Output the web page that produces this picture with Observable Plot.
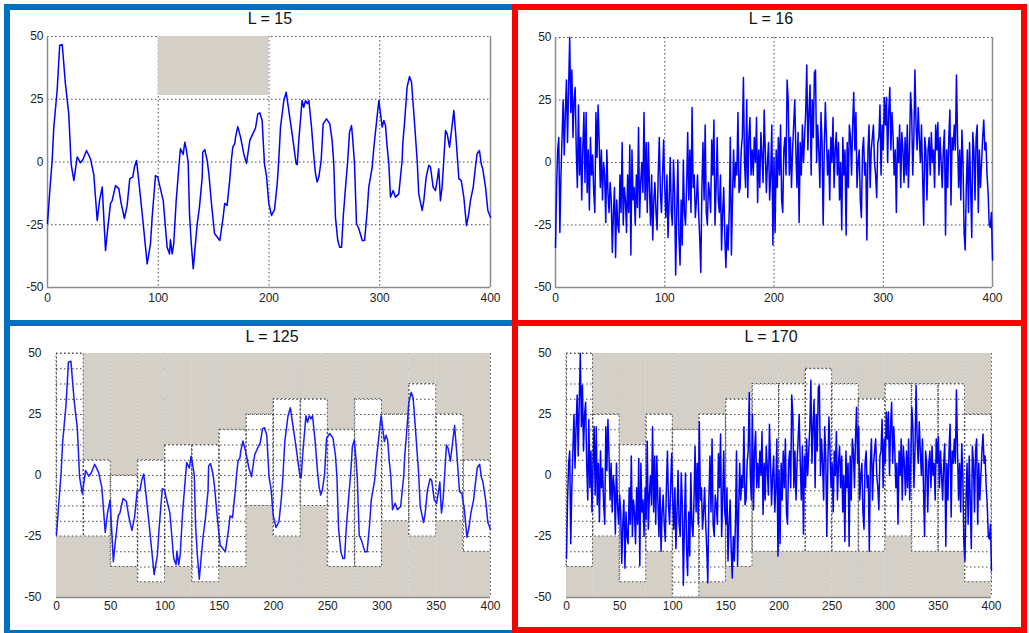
<!DOCTYPE html>
<html><head><meta charset="utf-8">
<script src="https://cdn.jsdelivr.net/npm/d3@7"></script>
<script src="https://cdn.jsdelivr.net/npm/@observablehq/plot@0.6"></script>
<style>
body{margin:0;width:1029px;height:633px;position:relative;overflow:hidden;background:#fff;font-family:"Liberation Sans",Arial,sans-serif;}
.box{position:absolute;box-sizing:border-box;}
.title{position:absolute;font-size:16px;color:#111;text-align:center;line-height:18px;}
.plot{position:absolute;}
</style></head><body>
<script>
// ---------- data ----------
const titles = ["L = 15", "L = 16", "L = 125", "L = 170"];
const xTicksTop = [0, 100, 200, 300, 400];
const xTicksBottom = [0, 50, 100, 150, 200, 250, 300, 350, 400];
const yTicks = [-50, -25, 0, 25, 50];

// smooth series (x, y)
const smoothX = [0,2,4.2,5.7,8.7,11,13.3,16.2,19.2,21.3,23.8,26.8,29.8,32,35.2,38.8,41.8,44.9,47,49.4,52.4,53.9,56.9,58.4,61.4,64.4,66.5,69.5,71.9,74.3,77,78.5,80.4,82.4,85.5,90,93,94.5,97.5,99.6,100.9,104.5,106.5,108,110.2,111,112.6,114,116.2,118.6,120,122.5,124,125.2,127,128.2,129.8,131.6,133,135.2,137.2,139.7,140.2,142,144.2,145.7,147.8,150.8,155.6,158.6,160,162.2,164.5,166,167.3,169.1,169.8,171.8,174.3,177.2,179.7,182.7,185.4,187.8,189.9,191.7,193.8,195.9,197.7,199.8,202.3,205,207.4,208.8,210.4,213.4,215.5,217.9,220.9,224.5,225.5,226.9,229.9,231.4,233,234.5,236,238.4,240.5,242,243.5,245,247.1,248.9,251.9,254.9,257,258.5,260,262.1,263.9,265.5,267,269.1,271.1,272.7,274.5,275.7,277.2,279,281.1,284.2,286.3,288.7,290.1,293.2,294.7,297.7,299.2,300.7,302.2,303.7,305.2,306.7,308.2,309.7,312.1,314.2,317.2,320.2,320.8,322.3,324.7,326.9,328.7,330.8,333.8,335.2,338.3,339.8,341.9,344.3,345.8,348.2,350.3,351.8,353.3,354.8,356.3,357.7,359.4,360.9,363,364.8,366.9,369,370.5,371.4,373.6,375.9,378.3,380.4,381.9,384.4,386.4,387.9,390,391.6,393,395.5,397.6,400];
const smoothY = [-24.5,-12,0.6,13.9,28.5,46.4,46.8,31,19.2,-0.7,-7.4,2,-0.3,1,4.6,1.3,-5,-23.3,-15.3,-10,-35.3,-28.5,-16.5,-15.4,-9.4,-10.6,-16.5,-22.5,-17.3,-6.6,-6,-2,0.6,-7.4,-20.6,-40.6,-32.5,-22,-5.4,-6,-8.7,-15.4,-26,-34,-36.6,-31,-36.6,-32.5,-15.4,-2,5.3,3,7.9,5.3,0,-20.6,-32.5,-42.5,-35.3,-24.6,-18,-6,3.9,4.9,0.6,-4.7,-15.4,-28.5,-31.3,-22,-16.5,-17.3,-7.4,0.6,5.9,7.3,9.9,14.1,9.9,3.3,-0.5,8.6,11.2,13.5,19.2,19.6,16.5,-0.7,-5.4,-16.5,-21.3,-19,-8.7,0.6,13.9,24.5,27.8,20.5,11.2,-0.7,-1,8.6,24.5,21.8,24.5,23.2,24.5,13.9,2,-4.7,-8,-6,0.6,15.2,17.2,15.2,8.6,-0.7,-22,-31.3,-34,-34,-22,-10,0.6,11.9,14.5,8.6,-0.7,-24.6,-26.6,-31.3,-31.3,-19.3,-10,-2,5.9,18.5,24.5,19.2,13.9,16.5,14.5,5.9,-0.7,-14,-11.4,-14,-12.7,0.6,7.3,15.2,29.8,34.1,31.8,19.2,0.6,-12.7,-19.3,-15.4,-6,-1.3,-2,-10,-11.4,-7.4,-2.7,-15.4,-10,0,12.5,11.2,5.9,12.5,20.5,8.6,-0.7,-6.6,-7.4,-14,-25.3,-20.6,-15.4,-10,-2,3.3,4.6,-0.7,-2.7,-10,-19.3,-22];

// noisy series, one value per x = 0..400
const noisyY = [
-34,-10,5,10,-28,-5,10,25,3,20,
33,8,30,50,20,37,10,25,30,5,
-10,23,-5,10,-15,5,20,-8,20,-12,
5,-19,10,-5,3,-12,-20,20,2,23,
8,-10,5,-15,0,-5,-24,5,-12,-20,
-8,-15,-36,-20,-10,-38,-15,-25,-28,-5,
-20,8,-25,-10,-15,-28,-5,-20,7,-37,
5,-15,-10,-25,-5,-18,14,-22,-8,0,
-12,20,-15,8,-20,8,-10,-25,-5,-31,
-15,-8,-20,-27,-5,10,-12,-20,-5,9,
-10,-22,-5,-30,-15,2,-20,-25,1,-12,
-45,-20,1,-30,-41,-15,-33,1,-20,-25,
-10,12,-15,5,-20,22,-10,-5,-22,-15,
-5,-20,-30,-44,-10,8,-15,15,-20,-25,
-8,-12,-20,9,-5,17,-25,-10,10,-15,
-20,-5,-35,-20,-10,-30,-42,-25,-35,-20,
10,-37,-15,5,-10,0,-5,20,-12,-10,
5,10,34,0,-10,25,-14,10,18,-5,
5,-5,10,0,18,-16,5,-10,12,3,
-8,21,5,-12,0,8,-15,-5,15,-33,
2,-28,5,-10,10,-5,15,-15,-20,5,
10,-5,33,25,-5,10,-10,5,15,25,
5,-10,12,-24,8,-5,15,0,10,20,
39,5,20,31,-5,25,10,36,37,0,
15,5,-10,20,8,-25,5,24,10,-5,
5,-15,10,0,18,-10,5,12,-5,8,
-15,0,-27,10,-5,5,-29,8,-10,15,
10,-5,15,28,5,20,-10,0,5,-15,
-22,5,10,-5,0,-31,5,15,-10,5,
10,15,0,-5,-14,8,10,23,-5,15,
5,26,15,26,0,20,30,5,20,10,
-5,5,-20,10,0,15,-10,12,5,-8,
10,-5,15,-10,5,28,20,-5,10,37,
15,5,22,10,0,15,-5,-25,10,5,
-15,5,10,-5,12,0,5,-10,15,5,
16,-5,10,0,-10,5,13,-29,5,-10,
10,21,-17,10,5,15,5,35,10,-10,
5,-15,13,0,-28,-35,-10,5,-20,8,
-10,-30,12,5,-15,10,15,-20,5,-10,
0,10,17,5,8,-5,-12,-25,-26,-20,
-39];

// shaded band in "L = 15"
const shade15X1 = [100], shade15X2 = [200], shade15Y1 = [26.5], shade15Y2 = [50];

// block envelopes (blocks of 25)
const blockStart = [0,25,50,75,100,125,150,175,200,225,250,275,300,325,350,375];
const top125 = [50,6.25,0,6.25,12.5,12.5,18.75,25,31.25,31.25,18.75,31.25,25,37.5,25,6.25];
const bot125 = [-25,-25,-37.5,-43.75,-37.5,-43.75,-37.5,-12.5,-25,-12.5,-37.5,-37.5,-18.75,-25,-18.75,-31.25];
const top170 = [50,25,12.5,25,18.75,25,31.25,37.5,37.5,43.75,37.5,31.25,37.5,37.5,37.5,25];
const bot170 = [-37.5,-25,-43.75,-31.25,-50,-43.75,-37.5,-31.25,-31.25,-31.25,-31.25,-31.25,-25,-31.25,-31.25,-43.75];

// ---------- build ----------
const smooth = smoothX.map((x, i) => ({x, y: smoothY[i]}));
const noisy = noisyY.map((y, i) => ({x: i, y}));
const blocks = (tops, bots) => blockStart.map((s, i) => ({x1: s, x2: s + 25, top: tops[i], bot: bots[i]}));

const GRAY = "#D4D0C8";
const GRID = "#4a4a4a";
const DASH = "1.5,2.5";

function addBox(left, top, w, h, color) {
  const d = document.createElement("div");
  d.className = "box";
  Object.assign(d.style, {left: left + "px", top: top + "px", width: w + "px", height: h + "px", border: "6px solid " + color});
  document.body.appendChild(d);
}
function addTitle(text, cx, top) {
  const d = document.createElement("div");
  d.className = "title";
  d.textContent = text;
  Object.assign(d.style, {left: (cx - 60) + "px", width: "120px", top: top + "px"});
  document.body.appendChild(d);
}

function panel(cfg) {
  const marks = [];
  marks.push(Plot.ruleX(cfg.gridX, {stroke: GRID, strokeDasharray: DASH, strokeWidth: 1}));
  marks.push(Plot.ruleY(cfg.gridY, {stroke: GRID, strokeDasharray: DASH, strokeWidth: 1}));
  if (cfg.shade) {
    marks.push(Plot.rect(cfg.shade, {x1: "x1", x2: "x2", y1: "y1", y2: "y2", fill: GRAY, inset: 0}));
  }
  if (cfg.blocks) {
    marks.push(Plot.rect(cfg.blocks, {x1: "x1", x2: "x2", y1: "top", y2: () => 50, fill: GRAY, inset: 0}));
    marks.push(Plot.rect(cfg.blocks, {x1: "x1", x2: "x2", y1: () => -50, y2: "bot", fill: GRAY, inset: 0}));
    marks.push(Plot.rect(cfg.blocks, {x1: "x1", x2: "x2", y1: "bot", y2: "top", fill: "none", stroke: GRID, strokeDasharray: DASH, strokeWidth: 1, inset: 0}));
  }
  marks.push(Plot.ruleY([-50], {stroke: "#8c8c8c", strokeWidth: 1.5}));
  if (cfg.sides) marks.push(Plot.ruleX([0, 400], {stroke: "#8c8c8c", strokeWidth: 1.5}));
  marks.push(Plot.line(cfg.data, {x: "x", y: "y", stroke: cfg.lineColor, strokeWidth: 1.5}));
  marks.push(Plot.axisX(cfg.xTicks, {tickSize: 0, tickPadding: cfg.xPad, label: null, color: "#222", tickFormat: d => String(d)}));
  marks.push(Plot.axisY(yTicks, {tickSize: 0, tickPadding: cfg.yPad, label: null, color: "#222", tickFormat: d => String(d)}));
  const svg = Plot.plot({
    width: cfg.width, height: cfg.height,
    marginLeft: cfg.mL, marginRight: cfg.mR, marginTop: cfg.mT, marginBottom: cfg.mB,
    x: {type: "linear", domain: [0, 400]},
    y: {type: "linear", domain: [-50, 50]},
    style: {fontSize: "12px", fontFamily: "'Liberation Sans', Arial, sans-serif", background: "transparent", overflow: "visible"},
    marks
  });
  const wrap = document.createElement("div");
  wrap.className = "plot";
  wrap.style.left = cfg.left + "px";
  wrap.style.top = cfg.top + "px";
  wrap.appendChild(svg);
  document.body.appendChild(wrap);
}

// frames
addBox(4, 4, 514, 322, "#0070C0");
addBox(4, 320, 514, 316, "#0070C0");
addBox(512, 4, 515, 322, "#FF0000");
addBox(512, 320, 515, 313, "#FF0000");

const gridTopX = [100, 200, 300];
const gridTopY = [-25, 0, 25, 50];
const gridBotX = d3.range(0, 401, 25);
const gridBotY = d3.range(-43.75, 50.01, 6.25);

panel({left: 10, top: 30, width: 490, height: 290, mL: 37, mR: 10, mT: 6, mB: 33,
  data: smooth, lineColor: "#0000FF", gridX: gridTopX, gridY: gridTopY, xTicks: xTicksTop, xPad: 6, yPad: 4, sides: true,
  shade: shade15X1.map((x1, i) => ({x1, x2: shade15X2[i], y1: shade15Y1[i], y2: shade15Y2[i]}))});
panel({left: 518, top: 30, width: 500, height: 290, mL: 37, mR: 26, mT: 7, mB: 33,
  data: noisy, lineColor: "#0000FF", gridX: gridTopX, gridY: gridTopY, xTicks: xTicksTop, xPad: 6, yPad: 4, sides: true});
panel({left: 10, top: 340, width: 495, height: 285, mL: 46, mR: 15, mT: 13, mB: 28,
  data: smooth, lineColor: "#1a1aff", gridX: gridBotX, gridY: gridBotY, xTicks: xTicksBottom, xPad: 4, yPad: 15, sides: false,
  blocks: blocks(top125, bot125)});
panel({left: 518, top: 340, width: 500, height: 285, mL: 48, mR: 27, mT: 13, mB: 28,
  data: noisy, lineColor: "#0000FF", gridX: gridBotX, gridY: gridBotY, xTicks: xTicksBottom, xPad: 4, yPad: 15, sides: false,
  blocks: blocks(top170, bot170)});

addTitle(titles[0], 270, 10);
addTitle(titles[1], 771, 10);
addTitle(titles[2], 272, 328);
addTitle(titles[3], 771, 328);
</script>
</body></html>
